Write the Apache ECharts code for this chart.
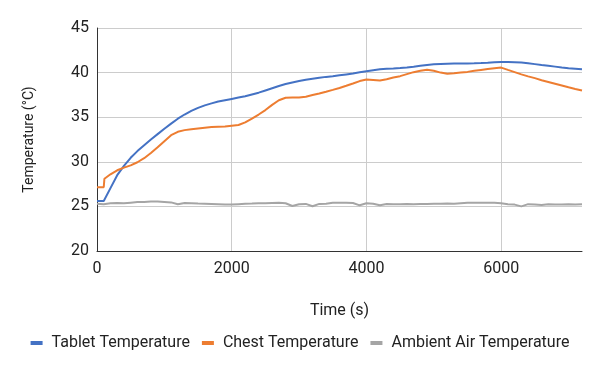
<!DOCTYPE html>
<html><head><meta charset="utf-8">
<script src="https://cdn.jsdelivr.net/npm/echarts@6/dist/echarts.min.js"></script>
<style>html,body{margin:0;padding:0;background:#fff}#c{width:600px;height:371px}</style>
</head><body><div id="c"></div>
<script>
const times = [0,100,110,200,300,400,500,600,700,800,900,1000,1100,1200,1300,1400,1500,1600,1700,1800,1900,2000,2100,2200,2300,2400,2500,2600,2700,2800,2900,3000,3100,3200,3300,3400,3500,3600,3700,3800,3900,4000,4100,4200,4300,4400,4500,4600,4700,4800,4900,5000,5100,5200,5300,5400,5500,5600,5700,5800,5900,6000,6100,6200,6300,6400,6500,6600,6700,6800,6900,7000,7100,7200];
const tablet = [25.6,25.6,25.6,27.05,28.5,29.55,30.45,31.2,31.85,32.5,33.1,33.7,34.28,34.83,35.3,35.7,36.05,36.33,36.55,36.75,36.9,37.05,37.2,37.35,37.55,37.75,38.0,38.25,38.5,38.72,38.9,39.05,39.2,39.32,39.42,39.52,39.6,39.7,39.8,39.9,40.03,40.16,40.27,40.37,40.43,40.47,40.52,40.58,40.66,40.76,40.86,40.93,40.97,41.0,41.02,41.03,41.03,41.04,41.07,41.11,41.16,41.19,41.19,41.17,41.12,41.05,40.95,40.85,40.76,40.67,40.58,40.5,40.44,40.38];
const chest = [27.15,27.15,28.1,28.6,29.05,29.35,29.6,29.95,30.4,30.98,31.62,32.3,32.98,33.36,33.55,33.66,33.74,33.82,33.9,33.94,33.96,34.05,34.12,34.42,34.85,35.3,35.8,36.38,36.9,37.18,37.2,37.2,37.3,37.48,37.65,37.85,38.06,38.28,38.52,38.78,39.05,39.22,39.18,39.12,39.25,39.45,39.6,39.83,40.05,40.2,40.32,40.2,40.0,39.88,39.92,40.0,40.08,40.2,40.3,40.4,40.5,40.56,40.3,40.05,39.8,39.58,39.38,39.15,38.95,38.75,38.55,38.35,38.17,38.0];
const ambient = [25.3,25.25,25.35,25.35,25.38,25.35,25.42,25.48,25.5,25.55,25.55,25.5,25.45,25.25,25.38,25.35,25.32,25.3,25.28,25.25,25.22,25.2,25.25,25.3,25.32,25.35,25.35,25.38,25.4,25.35,25.05,25.25,25.28,25.02,25.28,25.3,25.4,25.42,25.4,25.38,25.12,25.35,25.3,25.12,25.28,25.25,25.25,25.28,25.25,25.28,25.28,25.3,25.3,25.32,25.3,25.35,25.4,25.42,25.4,25.42,25.4,25.35,25.25,25.2,25.0,25.25,25.22,25.15,25.25,25.2,25.22,25.25,25.2,25.25];
const seriesNames = ['Tablet Temperature','Chest Temperature','Ambient Air Temperature'];
const xTicks = {min:0, max:7200, interval:2000};
const yTicks = {min:20, max:45, interval:5};

const pair = arr => times.map((t,i)=>[t,arr[i]]);
const chart = echarts.init(document.getElementById('c'), null, {renderer:'canvas'});
const font = 'Roboto';
chart.setOption({
  animation:false,
  color:['#4472C4','#ED7D31','#A5A5A5'],
  textStyle:{fontFamily:font},
  grid:{left:97,right:18,top:28,bottom:120,containLabel:false},
  legend:{
    top:330,left:'center',itemWidth:12,itemHeight:4,itemGap:12,icon:'rect',
    textStyle:{fontFamily:font,fontSize:16,color:'#222',padding:[0,0,0,4]},
    data:seriesNames
  },
  xAxis:{
    type:'value',min:xTicks.min,max:xTicks.max,interval:xTicks.interval,
    name:'Time (s)',nameLocation:'middle',nameGap:52,
    nameTextStyle:{fontFamily:font,fontSize:16,color:'#222'},
    axisLine:{show:true,lineStyle:{color:'#333',width:1}},
    axisTick:{show:false},
    axisLabel:{fontFamily:font,fontSize:16,color:'#222',margin:10,showMaxLabel:false,formatter:v=>String(v)},
    splitLine:{show:true,lineStyle:{color:['#ccc','#ccc','#ccc','#ccc','rgba(0,0,0,0)'],width:1}}
  },
  yAxis:{
    type:'value',min:yTicks.min,max:yTicks.max,interval:yTicks.interval,
    name:'Temperature (°C)',nameLocation:'middle',nameGap:61,
    nameTextStyle:{fontFamily:font,fontSize:14,color:'#222'},
    axisLine:{show:true,lineStyle:{color:'#333',width:1}},
    axisTick:{show:false},
    axisLabel:{fontFamily:font,fontSize:16,color:'#222',margin:8},
    splitLine:{show:true,lineStyle:{color:'#ccc',width:1}}
  },
  series:[
    {name:seriesNames[0],type:'line',data:pair(tablet),showSymbol:false,lineStyle:{width:2}},
    {name:seriesNames[1],type:'line',data:pair(chest),showSymbol:false,lineStyle:{width:2}},
    {name:seriesNames[2],type:'line',data:pair(ambient),showSymbol:false,lineStyle:{width:2}}
  ]
});
</script></body></html>
